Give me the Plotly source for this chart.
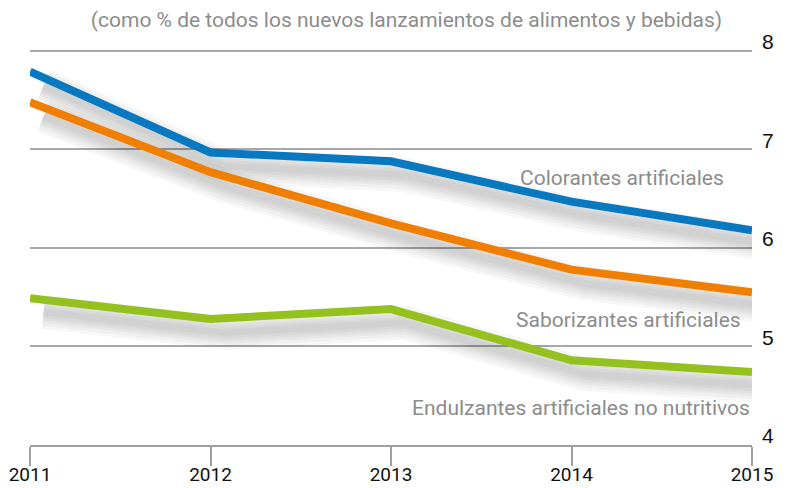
import plotly.graph_objects as go

years = [2011, 2012, 2013, 2014, 2015]
colorantes = [7.79, 6.97, 6.88, 6.47, 6.18]
saborizantes = [7.48, 6.77, 6.25, 5.78, 5.55]
endulzantes = [5.49, 5.28, 5.38, 4.86, 4.74]

series_names = ["Colorantes artificiales", "Saborizantes artificiales",
                "Endulzantes artificiales no nutritivos"]
series_values = [colorantes, saborizantes, endulzantes]
series_colors = ["#0878c1", "#f07e00", "#95c11f"]

y_ticks = [4, 5, 6, 7, 8]
title_text = "(como % de todos los nuevos lanzamientos de alimentos y bebidas)"

# page body adds an 8px offset; figure is sized so the plot lands where the reference has it
W, H = 784, 480
ML, MR, MT, MB = 22, 40, 41, 43
PW, PH = W - ML - MR, H - MT - MB

fig = go.Figure()

# soft drop shadows (offset below/right of each line)
dx, dy = 0.075, -0.14
for vals in series_values:
    for w in [34, 28, 22, 17, 12, 7]:
        fig.add_trace(go.Scatter(
            x=[x + dx for x in years], y=[v + dy for v in vals],
            mode="lines", line=dict(color="rgba(0,0,0,0.032)", width=w),
            hoverinfo="skip", showlegend=False))

for name, vals, col in zip(series_names, series_values, series_colors):
    fig.add_trace(go.Scatter(x=years, y=vals, mode="lines", name=name,
                             line=dict(color=col, width=8), showlegend=False))

label_font = dict(family="Roboto, sans-serif", size=21, color="#8c8c8c")
# series labels (page pixel positions of right edge / vertical centre)
label_pos = [(726, 178), (743, 320), (752, 408)]
for name, (px, py) in zip(series_names, label_pos):
    fig.add_annotation(text=name, xref="paper", yref="paper",
                       x=(px - 8 - ML) / PW, y=(H - MB - (py - 8)) / PH,
                       xanchor="right", yanchor="middle", showarrow=False,
                       font=label_font)

fig.update_layout(
    width=W, height=H,
    margin=dict(l=ML, r=MR, t=MT, b=MB, autoexpand=False),
    paper_bgcolor="white", plot_bgcolor="white",
    title=dict(text=title_text, x=(406.5 - 8) / W, xanchor="center",
               y=1 - (20 - 8) / H, yanchor="middle", font=label_font),
    xaxis=dict(range=[2011, 2015], tickvals=years, ticktext=[str(y) for y in years],
               automargin=False, ticklabeloverflow="allow", ticklabelstandoff=-8,
               showgrid=False, zeroline=False, showline=True, linecolor="#a0a0a0",
               linewidth=1.5, ticks="outside", ticklen=19, tickcolor="#a0a0a0",
               tickwidth=1.5,
               tickfont=dict(family="Roboto, sans-serif", size=19, color="#111")),
    yaxis=dict(range=[4, 8.02], side="right", tickvals=y_ticks, automargin=False,
               ticklabeloverflow="allow",
               showgrid=True, gridcolor="#a8a8a8", gridwidth=1.5, zeroline=False,
               showline=False, ticks="", ticklabelstandoff=9, ticklabelshift=-9,
               tickfont=dict(family="Liberation Sans, Arial, sans-serif", size=21, color="#111")),
)

fig.write_html("out.html")
